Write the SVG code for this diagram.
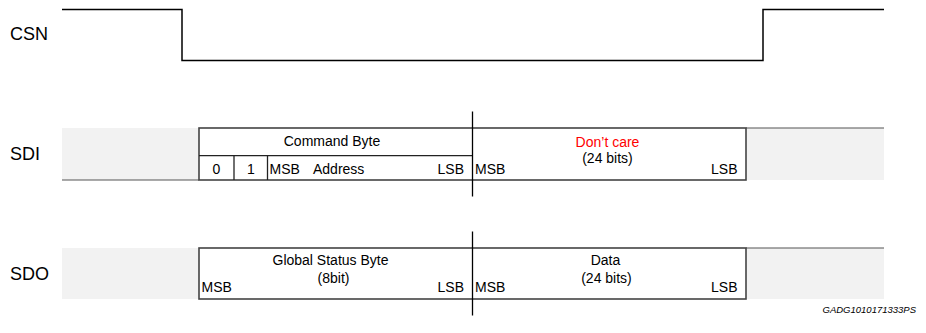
<svg xmlns="http://www.w3.org/2000/svg" width="926" height="333" viewBox="0 0 926 333">
  <style>
    text { font-family: "Liberation Sans", Arial, sans-serif; fill: #000; }
    .sig { font-size: 18px; }
    .lbl { font-size: 14px; }
    .mid { text-anchor: middle; }
    .end { text-anchor: end; }
    .red { fill: #ff0000; }
    .wave { fill: none; stroke: #000; stroke-width: 1.5; }
    .frame { fill: #fff; stroke: #444; stroke-width: 1.6; }
    .cell { stroke: #222; stroke-width: 1.3; }
    .idle { fill: #f2f2f2; stroke: none; }
    .edge { stroke: #555; stroke-width: 1.2; }
    .mark { stroke: #000; stroke-width: 1.3; }
    .code { font-size: 9.5px; font-style: italic; }
  </style>

  <!-- chip select waveform -->
  <g id="csn">
    <text class="sig" x="10" y="40">CSN</text>
    <polyline class="wave" points="62,9.5 182,9.5 182,60.5 763,60.5 763,9.5 884,9.5"/>
  </g>

  <!-- serial data in -->
  <g id="sdi">
    <text class="sig" x="10" y="160">SDI</text>
    <rect class="idle" x="62" y="128" width="137" height="52"/>
    <line class="edge" x1="62" y1="180" x2="199" y2="180"/>
    <rect class="idle" x="746" y="128" width="138" height="52"/>
    <line class="edge" x1="746" y1="128" x2="884" y2="128"/>
    <rect class="frame" x="199" y="128" width="547" height="52"/>
    <line class="cell" x1="199" y1="155.7" x2="473" y2="155.7"/>
    <line class="cell" x1="234" y1="155.7" x2="234" y2="180"/>
    <line class="cell" x1="267.5" y1="155.7" x2="267.5" y2="180"/>
    <text class="lbl mid" x="332" y="146">Command Byte</text>
    <text class="lbl mid" x="216.5" y="173.5">0</text>
    <text class="lbl mid" x="250.8" y="173.5">1</text>
    <text class="lbl" x="269.5" y="173.5">MSB</text>
    <text class="lbl" x="313" y="173.5">Address</text>
    <text class="lbl end" x="464" y="173.5">LSB</text>
    <text class="lbl" x="475" y="173.5">MSB</text>
    <text class="lbl mid red" x="607.5" y="147">Don’t care</text>
    <text class="lbl mid" x="607.5" y="162.5">(24 bits)</text>
    <text class="lbl end" x="737.5" y="173.5">LSB</text>
  </g>

  <!-- serial data out -->
  <g id="sdo">
    <text class="sig" x="10" y="280">SDO</text>
    <rect class="idle" x="62" y="248" width="137" height="51"/>
    <rect class="idle" x="746" y="248" width="138" height="51"/>
    <line class="edge" x1="746" y1="248" x2="884" y2="248"/>
    <rect class="frame" x="199" y="248" width="547" height="51"/>
    <text class="lbl mid" x="330.5" y="265">Global Status Byte</text>
    <text class="lbl mid" x="333.5" y="282.5">(8bit)</text>
    <text class="lbl" x="201.5" y="291.5">MSB</text>
    <text class="lbl end" x="464" y="291.5">LSB</text>
    <text class="lbl" x="475" y="291.5">MSB</text>
    <text class="lbl mid" x="605.5" y="265">Data</text>
    <text class="lbl mid" x="606.5" y="282.5">(24 bits)</text>
    <text class="lbl end" x="737.5" y="291.5">LSB</text>
  </g>

  <!-- byte boundary markers -->
  <g id="markers">
    <line class="mark" x1="472.5" y1="111.5" x2="472.5" y2="196.5"/>
    <line class="mark" x1="472.5" y1="231.5" x2="472.5" y2="315.5"/>
  </g>

  <text class="code end" x="916" y="313">GADG1010171333PS</text>
</svg>
